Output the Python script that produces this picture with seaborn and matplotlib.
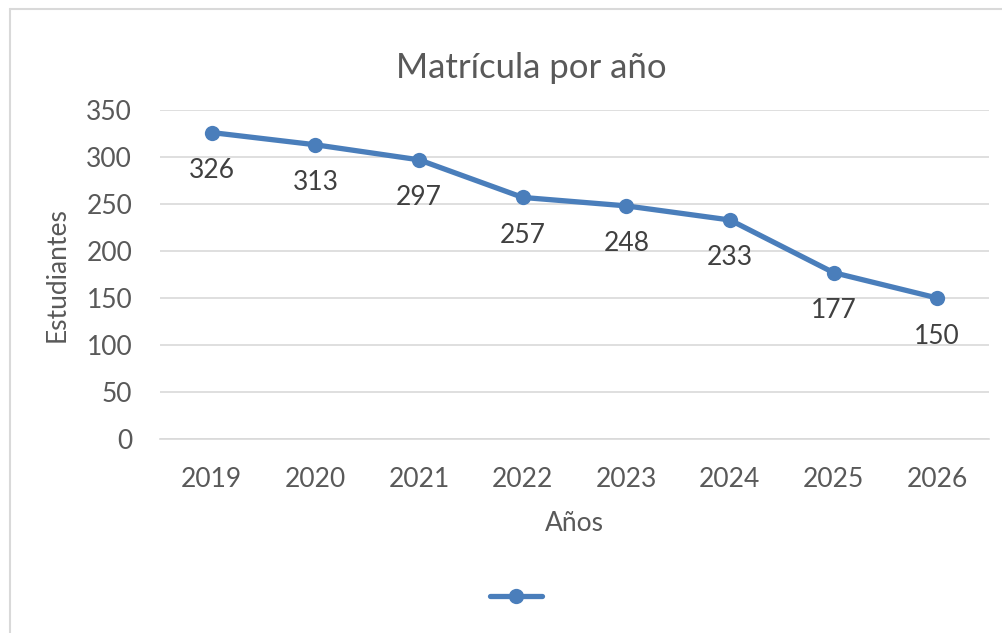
import matplotlib
matplotlib.use("Agg")
import matplotlib.pyplot as plt
import seaborn as sns
import pandas as pd
from matplotlib.lines import Line2D

# Datos de la gráfica
anios = ["2019", "2020", "2021", "2022", "2023", "2024", "2025", "2026"]
estudiantes = [326, 313, 297, 257, 248, 233, 177, 150]

AZUL = "#4a7ebb"
GRIS_TEXTO = "#595959"
GRIS_LINEA = "#d9d9d9"

sns.set_theme(style="white")
plt.rcParams['font.family'] = ['Lato', 'DejaVu Sans']

df = pd.DataFrame({"Años": anios, "Estudiantes": estudiantes})

fig = plt.figure(figsize=(10.03, 6.33), dpi=100)
ax = fig.add_axes([160 / 1003, 1 - 439 / 633, (989 - 160) / 1003, (439 - 110) / 633])

sns.lineplot(data=df, x="Años", y="Estudiantes", ax=ax, color=AZUL, linewidth=3.8,
             marker="o", markersize=11, markeredgewidth=0, sort=False)

# etiquetas de datos debajo de cada punto
for i, v in enumerate(estudiantes):
    ax.annotate(str(v), (i, v), xytext=(0, -38), textcoords="offset pixels",
                ha="center", va="center", fontsize=19, color="#404040")

ax.set_xlim(-0.5, len(anios) - 0.5)
ax.set_ylim(0, 350)
ax.set_yticks(range(0, 351, 50))
ax.yaxis.grid(True, color=GRIS_LINEA, linewidth=1.2)
ax.set_axisbelow(True)
for lado in ["top", "right", "left"]:
    ax.spines[lado].set_visible(False)
ax.spines["bottom"].set_color(GRIS_LINEA)
ax.spines["bottom"].set_linewidth(1.2)
ax.tick_params(axis="both", length=0, labelsize=19, labelcolor=GRIS_TEXTO)
ax.tick_params(axis="x", pad=20)
ax.tick_params(axis="y", pad=20)

ax.set_xlabel("Años", fontsize=19, color=GRIS_TEXTO, labelpad=14)
ax.set_ylabel("Estudiantes", fontsize=19, color=GRIS_TEXTO, labelpad=12)
fig.text(531 / 1003, 1 - 68 / 633, "Matrícula por año", ha="center", va="center",
         fontsize=25, color=GRIS_TEXTO)

# leyenda sin texto
leg_line = Line2D([], [], color=AZUL, linewidth=3.8, marker="o", markersize=11, markeredgewidth=0)
fig.legend(handles=[leg_line], labels=[""], loc="center", bbox_to_anchor=(516 / 1003, 1 - 597 / 633),
           frameon=False, handlelength=3.4, handletextpad=0)

# borde del área del gráfico
fig.add_artist(Line2D([10 / 1003, 10 / 1003], [0, 1 - 9 / 633], transform=fig.transFigure,
                      color=GRIS_LINEA, linewidth=1.5))
fig.add_artist(Line2D([10 / 1003, 1], [1 - 9 / 633, 1 - 9 / 633], transform=fig.transFigure,
                      color=GRIS_LINEA, linewidth=1.5))

fig.savefig("out.png", dpi=100)
